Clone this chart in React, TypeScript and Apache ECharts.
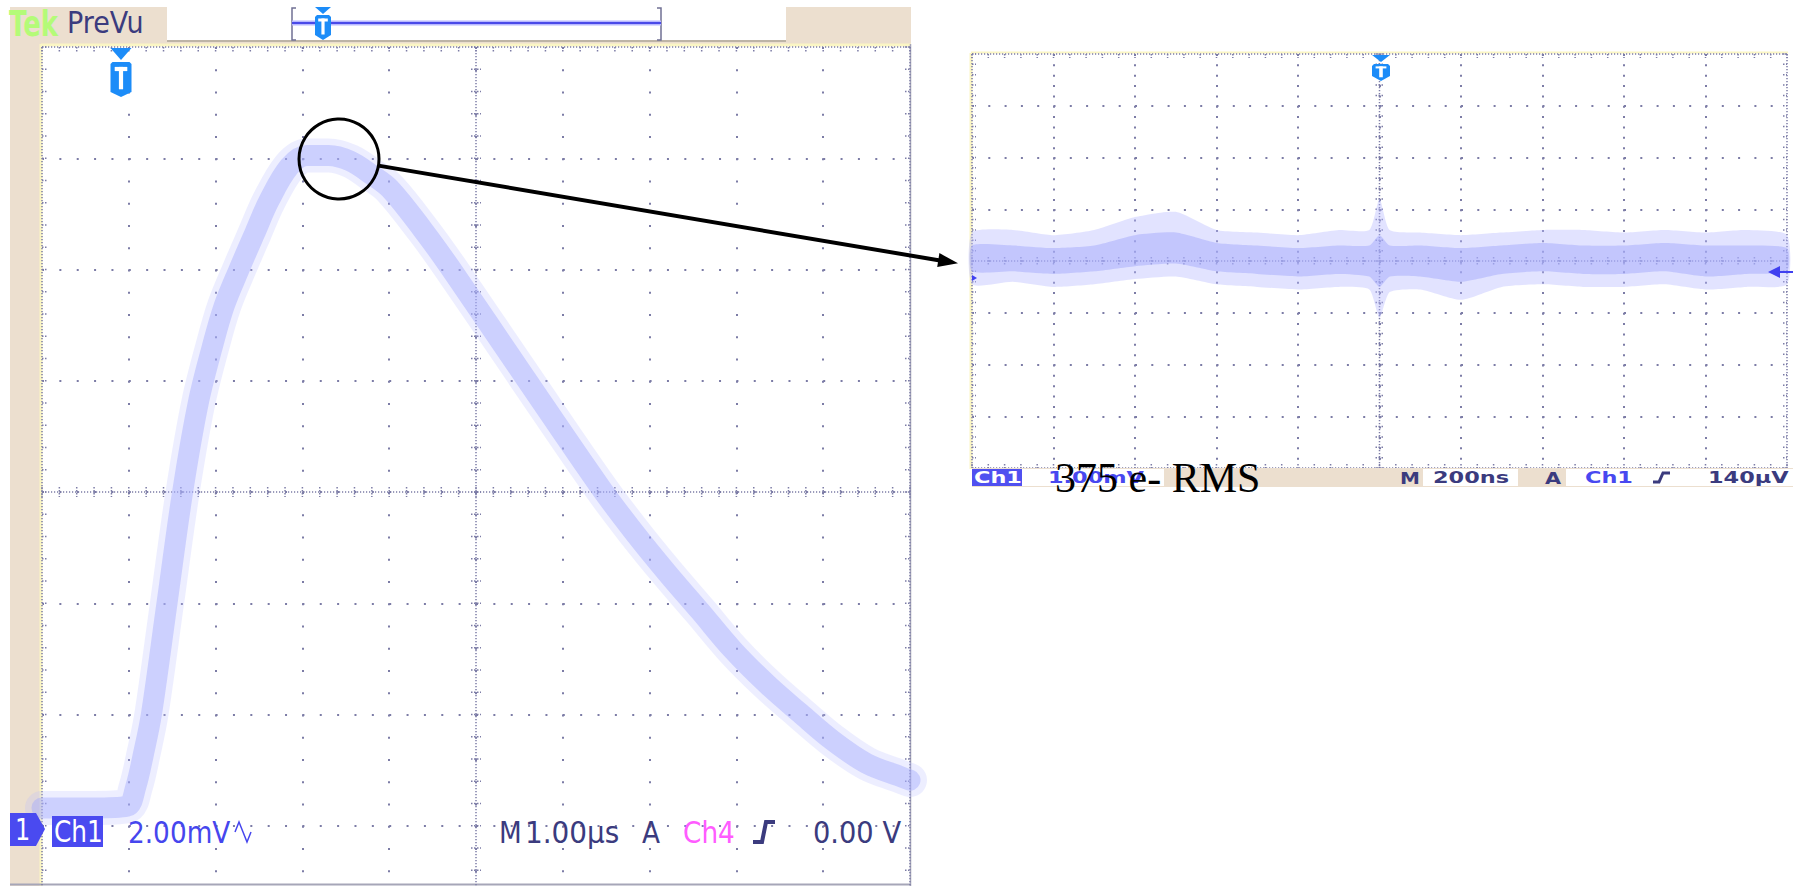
import React, { useEffect, useRef } from "react";
import * as echarts from "echarts";

// ---------- Left scope: Ch1 2.00 mV/div, 1.00 µs/div ----------
const leftTimeTicksUs = [0, 1, 2, 3, 4, 5, 6, 7, 8, 9, 10];
const leftVoltTicksMv = [-2, 0, 2, 4, 6, 8, 10, 12, 14];
// centre of the noisy pulse band (time from left graticule edge, µs; mV)
const pulseTimeUs = [0, 0.6, 0.98, 1.08, 1.17, 1.26, 1.44, 1.62, 1.8, 1.96, 2.1, 2.27, 2.45, 2.62, 2.85, 3.05, 3.3, 3.55, 3.8, 4.01, 4.39, 4.7, 5.56, 6.43, 6.81, 7.2, 7.58, 7.96, 8.35, 8.73, 9.11, 9.5, 9.88, 10.0];
const pulseMv = [0.32, 0.32, 0.35, 0.7, 1.3, 2.0, 4.0, 6.0, 7.6, 8.6, 9.35, 10.0, 10.65, 11.25, 11.85, 12.05, 12.05, 11.95, 11.7, 11.45, 10.71, 10.04, 8.07, 6.09, 5.3, 4.55, 3.86, 3.16, 2.55, 2.03, 1.53, 1.12, 0.89, 0.82];

// ---------- Right scope: Ch1 1.00 mV/div, 200 ns/div ----------
const rightTimeTicksNs = [-1000, -800, -600, -400, -200, 0, 200, 400, 600, 800, 1000];
const rightVoltTicksMv = [-4, -3, -2, -1, 0, 1, 2, 3, 4];
const noiseTimeNs = [-1000, -900, -800, -700, -600, -500, -400, -300, -200, -100, -25, 0, 25, 100, 200, 300, 400, 500, 600, 700, 800, 900, 1000];
const noiseOuterUpperMv = [0.55, 0.6, 0.5, 0.6, 0.85, 0.95, 0.6, 0.55, 0.5, 0.6, 0.6, 1.2, 0.6, 0.55, 0.5, 0.55, 0.6, 0.6, 0.55, 0.6, 0.55, 0.6, 0.5];
const noiseOuterLowerMv = [-0.45, -0.4, -0.5, -0.45, -0.35, -0.3, -0.45, -0.5, -0.55, -0.5, -0.55, -1.1, -0.6, -0.55, -0.75, -0.5, -0.45, -0.5, -0.5, -0.45, -0.55, -0.5, -0.45];
const noiseInnerUpperMv = [0.3, 0.3, 0.25, 0.3, 0.5, 0.55, 0.35, 0.3, 0.25, 0.3, 0.3, 0.5, 0.3, 0.3, 0.25, 0.3, 0.35, 0.3, 0.3, 0.35, 0.3, 0.3, 0.25];
const noiseInnerLowerMv = [-0.2, -0.2, -0.25, -0.2, -0.1, -0.05, -0.2, -0.25, -0.3, -0.25, -0.3, -0.5, -0.3, -0.3, -0.4, -0.25, -0.2, -0.25, -0.25, -0.2, -0.3, -0.25, -0.2];

// ---------- colours ----------
const BEIGE = "#ecdfcf";
const NAVY = "#3b3b7e";
const CH1 = "#4a4af0";
const TBLUE = "#1c8cf8";
const DOT = "#7c7ca6";
const CREAM = "#fbf6c4";

function graticule(xMin: number, xMax: number, yMin: number, yMax: number, nx: number, ny: number, tick: number) {
  return (params: any, api: any) => {
    const tl = api.coord([xMin, yMax]);
    const br = api.coord([xMax, yMin]);
    const L = tl[0], T = tl[1], R = br[0], B = br[1];
    const cx = api.coord([(xMin + xMax) / 2, yMin])[0];
    const cy = api.coord([xMin, (yMin + yMax) / 2])[1];
    const sx = (R - L) / (nx * 5);
    const sy = (B - T) / (ny * 5);
    const ch: any[] = [];
    const dense = { stroke: DOT, lineWidth: 1.5, lineDash: [1.2, 1.8] };
    const tk = { stroke: DOT, lineWidth: 1.5, lineDash: [1.5, 1.5] };
    const seg = (x1: number, y1: number, x2: number, y2: number, style: any) =>
      ch.push({ type: "line", shape: { x1, y1, x2, y2 }, style });
    seg(cx, T, cx, B, dense);
    seg(L, cy, R, cy, dense);
    seg(L, T, R, T, dense);
    seg(L, T, L, B, dense);
    seg(R, T, R, B, dense);
    seg(L, B, R, B, dense);
    for (let i = 0; i <= nx * 5; i++) {
      const x = L + i * sx;
      seg(x, cy - tick, x, cy + tick, tk);
      seg(x, T, x, T + tick, tk);
      seg(x, B - tick, x, B, tk);
    }
    for (let j = 0; j <= ny * 5; j++) {
      const y = T + j * sy;
      seg(cx - tick, y, cx + tick, y, tk);
      seg(L, y, L + tick, y, tk);
      seg(R - tick, y, R, y, tk);
    }
    return { type: "group", children: ch };
  };
}

function band(times: number[], up: number[], lo: number[], fill: string) {
  return (params: any, api: any) => {
    if (params.dataIndex !== 0) return null;
    const pts: number[][] = [];
    for (let i = 0; i < times.length; i++) pts.push(api.coord([times[i], up[i]]));
    for (let i = times.length - 1; i >= 0; i--) pts.push(api.coord([times[i], lo[i]]));
    return { type: "polygon", shape: { points: pts, smooth: 0.2 }, style: { fill } };
  };
}

function tMarker(cx: number, triTop: number, triH: number, shTop: number, shBot: number, w: number) {
  const h = w / 2;
  const sh = shBot - shTop;
  return [
    { type: "polygon", z: 50, shape: { points: [[cx - h, triTop], [cx + h, triTop], [cx, triTop + triH]] }, style: { fill: TBLUE } },
    {
      type: "polygon", z: 50,
      shape: { points: [[cx - h, shTop + 2], [cx - h + 2, shTop], [cx + h - 2, shTop], [cx + h, shTop + 2], [cx + h, shBot - 5], [cx, shBot], [cx - h, shBot - 5]] },
      style: { fill: TBLUE },
    },
    { type: "rect", z: 51, shape: { x: cx - h * 0.6, y: shTop + sh * 0.14, width: h * 1.2, height: Math.max(2, sh * 0.12) }, style: { fill: "#fff" } },
    { type: "rect", z: 51, shape: { x: cx - h * 0.2, y: shTop + sh * 0.14, width: h * 0.4, height: sh * 0.64 }, style: { fill: "#fff" } },
  ];
}

function txt(text: string, x: number, y: number, size: number, color: string, sx: number, weight = "normal", family = "DejaVu Sans") {
  return {
    type: "text", x, y, scaleX: sx, z: 60,
    style: { text, fontSize: size, fontFamily: family, fontWeight: weight, fill: color, align: "left", verticalAlign: "middle" },
  };
}

function buildOption(): any {
  const pulse = pulseTimeUs.map((t, i) => [t, pulseMv[i]]);
  const hidden = { axisLabel: { show: false }, axisTick: { show: false }, axisLine: { show: false } };
  const split = (dash: number[]) => ({
    show: true, showMinLine: false, showMaxLine: false,
    lineStyle: { color: DOT, width: 2, type: dash },
  });

  const graphics: any[] = [
    // left scope frame
    { type: "rect", z: 0, shape: { x: 10, y: 7, width: 31, height: 879 }, style: { fill: BEIGE } },
    { type: "rect", z: 0, shape: { x: 10, y: 7, width: 157, height: 37 }, style: { fill: BEIGE } },
    { type: "rect", z: 0, shape: { x: 167, y: 40, width: 619, height: 4 }, style: { fill: BEIGE } },
    { type: "rect", z: 0, shape: { x: 786, y: 7, width: 125, height: 37 }, style: { fill: BEIGE } },
    { type: "rect", z: 0, shape: { x: 167, y: 7, width: 619, height: 33 }, style: { fill: "#ffffff" } },
    { type: "line", z: 1, shape: { x1: 167, y1: 41, x2: 786, y2: 41 }, style: { stroke: "#bdb4a6", lineWidth: 2 } },
    { type: "line", z: 1, shape: { x1: 41, y1: 44, x2: 41, y2: 886 }, style: { stroke: CREAM, lineWidth: 3 } },
    { type: "line", z: 1, shape: { x1: 41, y1: 45, x2: 911, y2: 45 }, style: { stroke: CREAM, lineWidth: 3 } },
    { type: "line", z: 1, shape: { x1: 910.5, y1: 44, x2: 910.5, y2: 886 }, style: { stroke: "#a6a6b8", lineWidth: 1.5 } },
    { type: "line", z: 1, shape: { x1: 10, y1: 884.5, x2: 911, y2: 884.5 }, style: { stroke: "#a6a6b8", lineWidth: 2 } },
    txt("Tek", 9, 23, 36, "#b4fb78", 0.72, "bold"),
    txt("PreVu", 67, 22.5, 31, NAVY, 0.87),
    // record view bracket
    { type: "polyline", z: 2, shape: { points: [[296, 8], [292, 8], [292, 40], [296, 40]] }, style: { stroke: "#707094", lineWidth: 1.5, fill: "none" } },
    { type: "polyline", z: 2, shape: { points: [[657, 8], [661, 8], [661, 40], [657, 40]] }, style: { stroke: "#707094", lineWidth: 1.5, fill: "none" } },
    { type: "line", z: 2, shape: { x1: 292, y1: 23, x2: 661, y2: 23 }, style: { stroke: "#b8b8ff", lineWidth: 5 } },
    { type: "line", z: 2, shape: { x1: 292, y1: 23, x2: 661, y2: 23 }, style: { stroke: "#4a4ae8", lineWidth: 2 } },
    ...tMarker(323, 7, 7, 15, 40, 16),
    ...tMarker(121, 48, 12, 62, 97, 21),
    // ground marker and status line (left)
    { type: "polygon", z: 55, shape: { points: [[10, 813], [36, 813], [45, 829], [36, 846], [10, 846]] }, style: { fill: CH1 } },
    txt("1", 15, 830, 30, "#ffffff", 0.8),
    { type: "rect", z: 55, shape: { x: 52, y: 816, width: 51, height: 31 }, style: { fill: CH1 } },
    txt("Ch1", 54, 832, 31, "#ffffff", 0.8),
    txt("2.00mV", 128, 832, 31, "#4646ee", 0.85),
    { type: "polyline", z: 60, shape: { points: [[235, 832], [239, 822], [243, 832], [247, 842], [251, 832]] }, style: { stroke: "#4646ee", lineWidth: 1.5, fill: "none" } },
    txt("M", 499, 832, 31, NAVY, 0.85),
    txt("1.00µs", 525, 832, 31, NAVY, 0.9),
    txt("A", 642, 832, 31, NAVY, 0.85),
    txt("Ch4", 683, 832, 31, "#ff5cff", 0.85),
    { type: "polyline", z: 60, shape: { points: [[753, 842], [762, 842], [766, 822], [775, 822]] }, style: { stroke: NAVY, lineWidth: 4, fill: "none" } },
    txt("0.00 V", 813, 832, 31, NAVY, 0.88),

    // right scope frame
    { type: "line", z: 1, shape: { x1: 971, y1: 53, x2: 971, y2: 469 }, style: { stroke: CREAM, lineWidth: 3 } },
    { type: "line", z: 1, shape: { x1: 971, y1: 52.5, x2: 1788, y2: 52.5 }, style: { stroke: CREAM, lineWidth: 2 } },
    { type: "rect", z: 40, shape: { x: 972, y: 468, width: 821, height: 19 }, style: { fill: BEIGE } },
    { type: "rect", z: 41, shape: { x: 972, y: 469, width: 50, height: 17 }, style: { fill: "#5050f0" } },
    { type: "rect", z: 41, shape: { x: 1022, y: 469, width: 142, height: 17 }, style: { fill: "#ffffff" } },
    { type: "rect", z: 41, shape: { x: 1423, y: 469, width: 95, height: 17 }, style: { fill: "#ffffff" } },
    { type: "rect", z: 41, shape: { x: 1566, y: 469, width: 227, height: 17 }, style: { fill: "#ffffff" } },
    txt("Ch1", 974, 478, 16, "#ffffff", 1.4, "bold"),
    txt("1.00mV", 1048, 478, 16, "#4848f0", 1.4, "bold"),
    txt("M", 1400, 478, 16, NAVY, 1.25, "bold"),
    txt("200ns", 1433, 478, 16, NAVY, 1.4, "bold"),
    txt("A", 1545, 478, 16, NAVY, 1.3, "bold"),
    txt("Ch1", 1585, 478, 16, "#4848f0", 1.4, "bold"),
    { type: "polyline", z: 60, shape: { points: [[1653, 482], [1659, 482], [1663, 473], [1670, 473]] }, style: { stroke: NAVY, lineWidth: 3, fill: "none" } },
    txt("140µV", 1708, 478, 16, NAVY, 1.4, "bold"),
    ...tMarker(1381, 55, 7, 64, 81, 18),
    { type: "polygon", z: 55, shape: { points: [[1768, 272], [1780, 266], [1780, 278]] }, style: { fill: "#4040f0" } },
    { type: "line", z: 55, shape: { x1: 1778, y1: 272, x2: 1793, y2: 272 }, style: { stroke: "#4040f0", lineWidth: 2 } },
    { type: "polygon", z: 55, shape: { points: [[972, 275], [977, 278], [972, 281]] }, style: { fill: "#4040f0" } },

    // annotation
    { type: "circle", z: 80, shape: { cx: 339, cy: 159, r: 40 }, style: { stroke: "#000", lineWidth: 3, fill: "none" } },
    { type: "line", z: 80, shape: { x1: 378.4, y1: 165.6, x2: 940, y2: 260.5 }, style: { stroke: "#000", lineWidth: 4 } },
    { type: "polygon", z: 80, shape: { points: [[958, 263.3], [939.4, 253.1], [937.2, 266.9]] }, style: { fill: "#000" } },
    txt("375 e- RMS", 1055, 478, 42, "#000000", 1, "normal", "Liberation Serif"),
  ];

  return {
    animation: false,
    backgroundColor: "#ffffff",
    grid: [
      { left: 42, top: 47, width: 868, height: 890, outerBoundsMode: "none", containLabel: false },
      { left: 972, top: 54, width: 815, height: 414, outerBoundsMode: "none", containLabel: false },
    ],
    xAxis: [
      { gridIndex: 0, type: "value", min: leftTimeTicksUs[0], max: leftTimeTicksUs[leftTimeTicksUs.length - 1], interval: 1, ...hidden, splitLine: split([2, 20.25]) },
      { gridIndex: 1, type: "value", min: rightTimeTicksNs[0], max: rightTimeTicksNs[rightTimeTicksNs.length - 1], interval: 200, ...hidden, splitLine: split([2, 8.35]) },
    ],
    yAxis: [
      { gridIndex: 0, type: "value", min: leftVoltTicksMv[0], max: leftVoltTicksMv[leftVoltTicksMv.length - 1], interval: 2, ...hidden, splitLine: split([2, 15.36]) },
      { gridIndex: 1, type: "value", min: rightVoltTicksMv[0], max: rightVoltTicksMv[rightVoltTicksMv.length - 1], interval: 1, ...hidden, splitLine: split([2, 14.3]) },
    ],
    graphic: { elements: graphics },
    series: [
      { type: "custom", xAxisIndex: 0, yAxisIndex: 0, silent: true, z: 1, data: [[0, 0]], renderItem: graticule(0, 10, -2, 14, 10, 8, 5) },
      {
        type: "line", xAxisIndex: 0, yAxisIndex: 0, data: pulse, showSymbol: false, smooth: 0.35, silent: true, z: 3,
        lineStyle: { width: 34, color: "rgba(182,186,255,0.25)", cap: "round", join: "round" },
      },
      {
        type: "line", xAxisIndex: 0, yAxisIndex: 0, data: pulse, showSymbol: false, smooth: 0.35, silent: true, z: 4,
        lineStyle: { width: 21, color: "rgba(164,170,252,0.45)", cap: "round", join: "round" },
      },
      { type: "custom", xAxisIndex: 1, yAxisIndex: 1, silent: true, z: 1, data: [[0, 0]], renderItem: graticule(-1000, 1000, -4, 4, 10, 8, 4) },
      { type: "custom", xAxisIndex: 1, yAxisIndex: 1, silent: true, z: 3, data: [[0, 0]], renderItem: band(noiseTimeNs, noiseOuterUpperMv, noiseOuterLowerMv, "rgba(182,186,255,0.40)") },
      { type: "custom", xAxisIndex: 1, yAxisIndex: 1, silent: true, z: 4, data: [[0, 0]], renderItem: band(noiseTimeNs, noiseInnerUpperMv, noiseInnerLowerMv, "rgba(164,170,252,0.50)") },
    ],
  };
}

export default function App() {
  const ref = useRef<HTMLDivElement>(null);
  useEffect(() => {
    if (!ref.current) return;
    const chart = echarts.init(ref.current, null, { renderer: "svg" });
    chart.setOption(buildOption());
    return () => chart.dispose();
  }, []);
  return <div ref={ref} style={{ position: "fixed", left: 0, top: 0, width: 1793, height: 940, background: "#ffffff" }} />;
}
